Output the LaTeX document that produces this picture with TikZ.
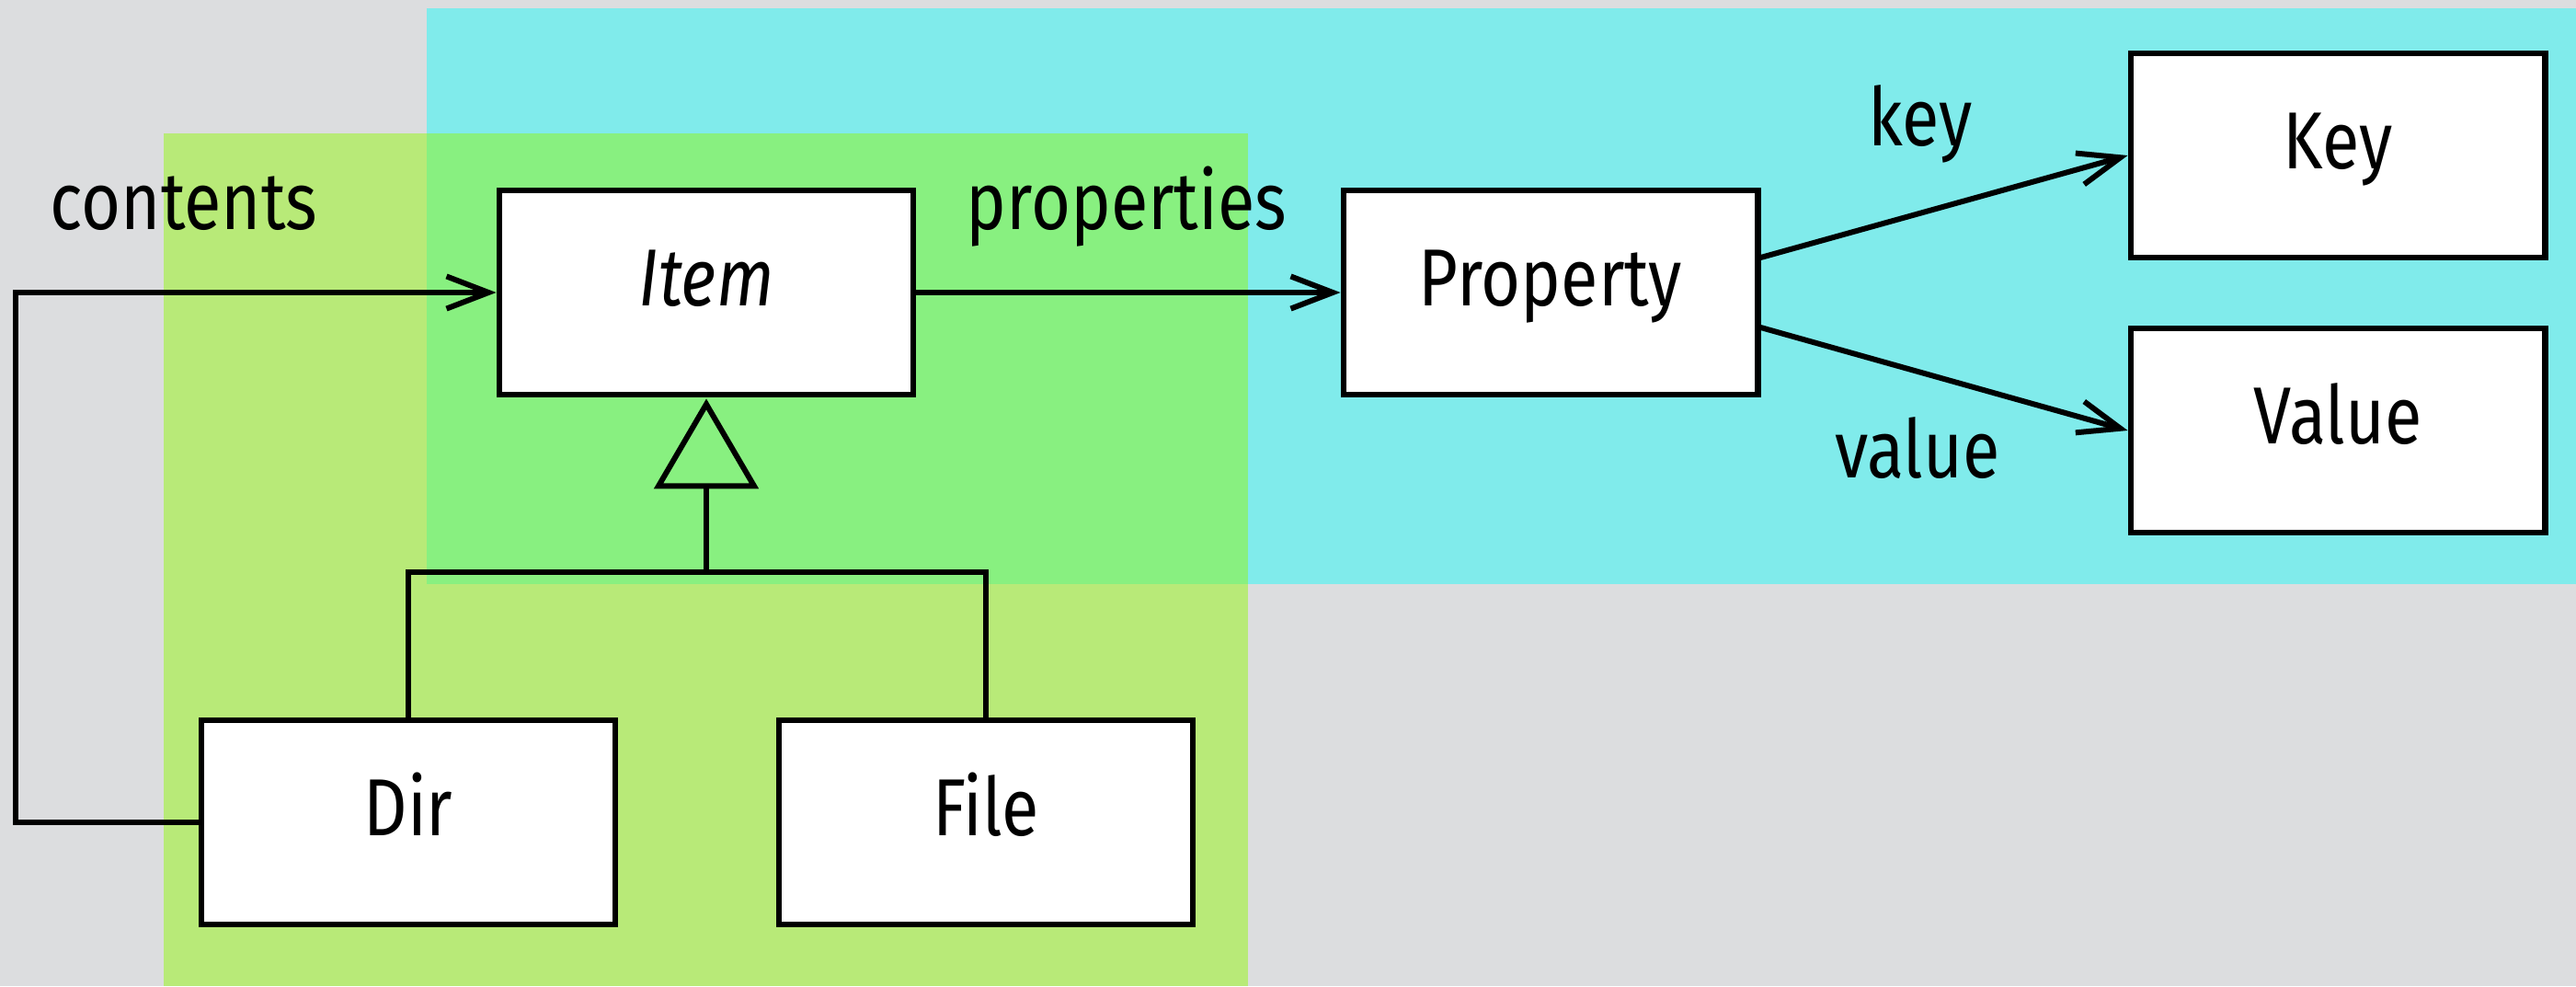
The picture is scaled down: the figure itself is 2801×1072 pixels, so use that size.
\documentclass[tikz,border=0pt]{standalone}
\usepackage{fontspec}
\setmainfont[FakeStretch=0.84]{Fira Sans}
\usetikzlibrary{arrows.meta,calc}
\definecolor{bggray}{HTML}{DCDDDF}
\definecolor{cyanbg}{HTML}{80EBEB}
\definecolor{greenbg}{HTML}{B8EA78}
\definecolor{overlapbg}{HTML}{88F080}
\begin{document}
\begin{tikzpicture}[x=0.01cm,y=-0.01cm,
  box/.style={draw,line width=1.9pt,fill=white,minimum width=4.5cm,minimum height=2.22cm,inner sep=0pt,text height=0.6cm,text depth=0.32cm,font=\fontsize{25}{30}\selectfont},
  conn/.style={line width=1.7pt},
  arr/.style={conn,-{Straight Barb[length=13pt,width=10pt,line width=1.7pt]}},
  lbl/.style={font=\fontsize{25}{30}\selectfont,inner sep=0pt,anchor=base}]
\useasboundingbox (0,0) rectangle (2801,1072);
\fill[bggray] (0,0) rectangle (2801,1072);
\fill[cyanbg] (464,9) rectangle (2801,635);
\fill[greenbg] (178,145) rectangle (1357,1072);
\fill[overlapbg] (464,145) rectangle (1357,635);

\node[box] (Item) at (768,318) {\itshape Item};
\node[box] (Property) at (1686,318) {Property};
\node[box] (Key) at (2542,169) {Key};
\node[box] (Value) at (2542,468) {Value};
\node[box] (Dir) at (444,894) {Dir};
\node[box] (File) at (1072,894) {File};

\draw[arr] (Dir.west) -- ++(-199,0) |- (Item.west);
\draw[arr] (Item) -- (Property);
\draw[arr] ($(Property.east)+(0,-38)$) -- (Key.west);
\draw[arr] ($(Property.east)+(0,38)$) -- (Value.west);

\coordinate (tt) at ($(Item.south)+(0,7)$);
\coordinate (tb) at ($(Item.south)+(0,96)$);
\draw[conn,line join=miter] (tt) -- ($(tb)+(-52,0)$) -- ($(tb)+(52,0)$) -- cycle;
\coordinate (bar) at ($(Item.south)+(0,190)$);
\draw[conn] (tb) -- (bar);
\draw[conn] (Dir.north) |- (bar) -| (File.north);

\node[lbl] (lcontents) at (200,249) {contents};
\node[lbl] (lproperties) at (1225,249) {properties};
\node[lbl] (lkey) at (2088,158) {key};
\node[lbl] (lvalue) at (2085,519) {value};
\end{tikzpicture}
\end{document}
